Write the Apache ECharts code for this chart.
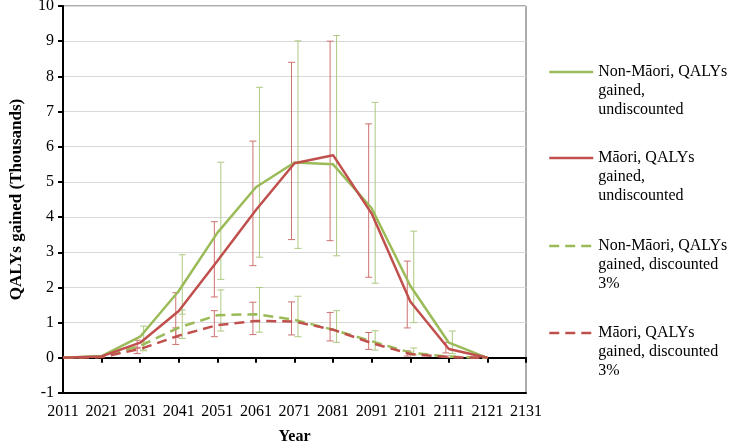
<!DOCTYPE html>
<html>
<head>
<meta charset="utf-8">
<script src="https://cdn.jsdelivr.net/npm/echarts@6/dist/echarts.min.js"></script>
<style>html,body{margin:0;padding:0;background:#fff;}#c{width:731px;height:443px;}</style>
</head>
<body>
<div id="c"></div>
<script>
// Categories (x axis tick labels)
const years = ['2011','2021','2031','2041','2051','2061','2071','2081','2091','2101','2111','2121','2131'];
const yTicks = [-1,0,1,2,3,4,5,6,7,8,9,10];

// Series values (thousands of QALYs)
const nonMaoriUndisc = [0, 0.05, 0.6, 1.9, 3.55, 4.85, 5.55, 5.5, 4.25, 2.05, 0.43, 0];
const maoriUndisc    = [0, 0.04, 0.43, 1.33, 2.75, 4.2, 5.53, 5.76, 4.1, 1.6, 0.25, 0];
const nonMaoriDisc   = [0, 0.03, 0.34, 0.86, 1.21, 1.24, 1.08, 0.8, 0.47, 0.15, 0.03, 0];
const maoriDisc      = [0, 0.02, 0.25, 0.63, 0.93, 1.05, 1.03, 0.8, 0.42, 0.11, 0.02, 0];

// Error bar bounds (null = no bar)
const nonMaoriUndiscLow  = [null, null, 0.22, 1.24, 2.23, 2.86, 3.11, 2.9, 2.12, 1.0, 0.12, null];
const nonMaoriUndiscHigh = [null, null, 0.9, 2.93, 5.56, 7.69, 9.01, 9.16, 7.26, 3.6, 0.76, null];
const maoriUndiscLow     = [null, null, 0.27, 0.58, 1.73, 2.62, 3.36, 3.33, 2.29, 0.85, 0.14, null];
const maoriUndiscHigh    = [null, null, 0.5, 1.85, 3.87, 6.16, 8.4, 9.0, 6.65, 2.75, 0.44, null];
const nonMaoriDiscLow    = [null, null, 0.2, 0.55, 0.76, 0.73, 0.6, 0.44, 0.22, 0.08, 0.01, null];
const nonMaoriDiscHigh   = [null, null, 0.45, 1.36, 1.93, 2.0, 1.75, 1.34, 0.77, 0.28, 0.06, null];
const maoriDiscLow       = [null, null, 0.12, 0.38, 0.6, 0.66, 0.65, 0.48, 0.24, 0.05, 0.01, null];
const maoriDiscHigh      = [null, null, 0.3, 0.85, 1.34, 1.58, 1.59, 1.29, 0.72, 0.2, 0.05, null];

const names = [
  'Non-Māori, QALYs gained, undiscounted',
  'Māori, QALYs gained, undiscounted',
  'Non-Māori, QALYs gained, discounted 3%',
  'Māori, QALYs gained, discounted 3%'
];
const legendText = {
  [names[0]]: 'Non-Māori, QALYs\ngained,\nundiscounted',
  [names[1]]: 'Māori, QALYs\ngained,\nundiscounted',
  [names[2]]: 'Non-Māori, QALYs\ngained, discounted\n3%',
  [names[3]]: 'Māori, QALYs\ngained, discounted\n3%'
};

const GREEN = '#9BBB59', RED = '#C0504D';
const GREEN_ERR = '#AEC982', RED_ERR = '#CC7370';
const SERIF = '"Liberation Serif","Times New Roman",serif';

function errSeries(low, high, color, dx) {
  const data = [];
  low.forEach((l, i) => { if (l != null && high[i] != null) data.push([i, l, high[i]]); });
  return {
    type: 'custom', silent: true, z: 1, xAxisIndex: 0, yAxisIndex: 0,
    encode: { x: 0, y: [1, 2] },
    data: data,
    renderItem: function (params, api) {
      const lo = api.coord([api.value(0), api.value(1)]);
      const hi = api.coord([api.value(0), api.value(2)]);
      const x = lo[0] + dx, w = 3.5;
      const st = { stroke: color, lineWidth: 1 };
      return {
        type: 'group',
        children: [
          { type: 'line', shape: { x1: x, y1: lo[1], x2: x, y2: hi[1] }, style: st },
          { type: 'line', shape: { x1: x - w, y1: hi[1], x2: x + w, y2: hi[1] }, style: st },
          { type: 'line', shape: { x1: x - w, y1: lo[1], x2: x + w, y2: lo[1] }, style: st }
        ]
      };
    }
  };
}

function lineSeries(name, data, color, dashed) {
  return {
    name: name, type: 'line', data: data, xAxisIndex: 0, yAxisIndex: 0, z: 3,
    symbol: 'none', showSymbol: false,
    lineStyle: { color: color, width: 2.5, type: dashed ? [10, 6] : 'solid' },
    itemStyle: { color: color }
  };
}

const legendTops = [24.5, 110.5, 198.5, 285.5];
const legends = names.map((n, k) => ({
  data: [n], left: 548, top: legendTops[k], orient: 'vertical', padding: 0,
  itemWidth: 44, itemHeight: 14, selectedMode: false,
  // two leading blank lines so the first text line sits level with the line icon
  formatter: (name) => '\n\n' + legendText[name],
  lineStyle: { width: 2.5 },
  itemStyle: { color: 'transparent', borderColor: 'transparent', borderWidth: 0, opacity: 0 },
  textStyle: { fontFamily: SERIF, fontSize: 16, lineHeight: 19, color: '#000' }
}));

const chart = echarts.init(document.getElementById('c'), null, { renderer: 'canvas' });
chart.setOption({
  animation: false,
  backgroundColor: '#fff',
  grid: { left: 63, right: 205, top: 6, bottom: 50, show: true, borderColor: '#595959', borderWidth: 1, backgroundColor: 'transparent', containLabel: false, outerBoundsMode: 'none' },
  legend: legends,
  xAxis: [
    {
      type: 'category', data: years, boundaryGap: false, position: 'top',
      axisLine: { onZero: true, lineStyle: { color: '#000', width: 2 } },
      axisTick: { show: true, inside: true, interval: 0, length: 5, lineStyle: { color: '#000', width: 2 } },
      axisLabel: { show: false }, splitLine: { show: false }
    },
    {
      type: 'category', data: years, boundaryGap: false, position: 'bottom',
      name: 'Year', nameLocation: 'middle', nameGap: 36,
      nameTextStyle: { fontFamily: SERIF, fontSize: 16, fontWeight: 'bold', color: '#000' },
      axisLine: { onZero: false, lineStyle: { color: '#000', width: 2 } },
      axisTick: { show: false },
      axisLabel: { interval: 0, fontFamily: SERIF, fontSize: 16, color: '#000', margin: 11 },
      splitLine: { show: false }
    }
  ],
  yAxis: {
    type: 'value', min: yTicks[0], max: yTicks[yTicks.length - 1], interval: 1,
    name: 'QALYs gained (Thousands)', nameLocation: 'middle', nameGap: 38, nameRotate: 90,
    nameTextStyle: { fontFamily: SERIF, fontSize: 17, fontWeight: 'bold', color: '#000' },
    axisLine: { show: true, onZero: false, lineStyle: { color: '#000', width: 2 } },
    axisTick: { show: true, length: 5, lineStyle: { color: '#000', width: 2 } },
    axisLabel: { fontFamily: SERIF, fontSize: 16, color: '#000', margin: 9 },
    splitLine: { show: true, lineStyle: { color: '#D9D9D9', width: 1 } }
  },
  series: [
    errSeries(nonMaoriUndiscLow, nonMaoriUndiscHigh, GREEN_ERR, 3.5),
    errSeries(maoriUndiscLow, maoriUndiscHigh, RED_ERR, -3),
    errSeries(nonMaoriDiscLow, nonMaoriDiscHigh, GREEN_ERR, 3.5),
    errSeries(maoriDiscLow, maoriDiscHigh, RED_ERR, -3),
    lineSeries(names[2], nonMaoriDisc, GREEN, true),
    lineSeries(names[3], maoriDisc, RED, true),
    lineSeries(names[0], nonMaoriUndisc, GREEN, false),
    lineSeries(names[1], maoriUndisc, RED, false)
  ]
});
</script>
</body>
</html>
